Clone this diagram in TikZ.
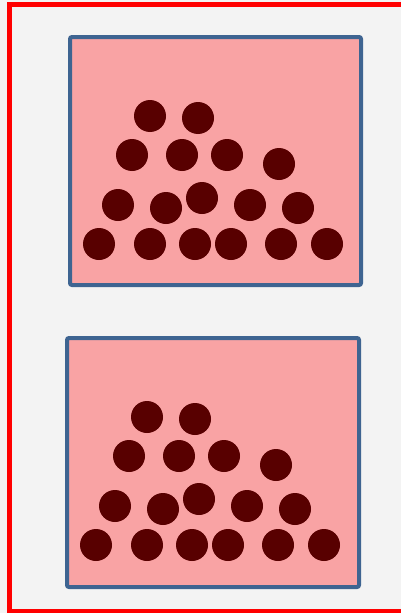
\documentclass[tikz,border=0pt]{standalone}
\usetikzlibrary{positioning}

\definecolor{frameRed}{HTML}{FF0000}
\definecolor{boxPink}{HTML}{F9A3A4}
\definecolor{boxEdge}{HTML}{3E6491}
\definecolor{dotRed}{HTML}{580000}
\definecolor{paperGray}{HTML}{F3F3F3}

\begin{document}
\begin{tikzpicture}[x=1pt, y=-1pt,
        boxnode/.style={rectangle, draw=boxEdge, fill=boxPink, line width=4pt, rounded corners=2pt, outer sep=0pt},
        dotnode/.style={circle, fill=dotRed, inner sep=0pt, minimum size=32pt},
    ]

    % Page
    \useasboundingbox (0,0) rectangle (401,613);
    \clip (0,0) rectangle (401,613);
    \fill[paperGray] (0,0) rectangle (401,613);
    \draw[frameRed, line width=4.5pt] (9.5,4.5) rectangle (412,611);

    % Objects
    \node[boxnode, minimum width=291pt, minimum height=248pt] (boxTop) at (215.5,161) {};
    \node[boxnode, minimum width=292pt, minimum height=249pt] (boxBottom) at (213,462.5) {};

    % Dots
    \foreach \b in {Top,Bottom}{
        \begin{scope}[shift={(box\b.north west)}]
            \node[dotnode] (dot\b A) at (80,79) {};
            \node[dotnode] (dot\b B) at (128,81) {};
            \node[dotnode] (dot\b C) at (62,118) {};
            \node[dotnode] (dot\b D) at (112,118) {};
            \node[dotnode] (dot\b E) at (157,118) {};
            \node[dotnode] (dot\b F) at (209,127) {};
            \node[dotnode] (dot\b G) at (48,168) {};
            \node[dotnode] (dot\b H) at (96,171) {};
            \node[dotnode] (dot\b I) at (132,161) {};
            \node[dotnode] (dot\b J) at (180,168) {};
            \node[dotnode] (dot\b K) at (228,171) {};
            \node[dotnode] (dot\b L) at (29,207) {};
            \node[dotnode] (dot\b M) at (80,207) {};
            \node[dotnode] (dot\b N) at (125,207) {};
            \node[dotnode] (dot\b O) at (161,207) {};
            \node[dotnode] (dot\b P) at (211,207) {};
            \node[dotnode] (dot\b Q) at (257,207) {};
        \end{scope}
    }

\end{tikzpicture}
\end{document}
